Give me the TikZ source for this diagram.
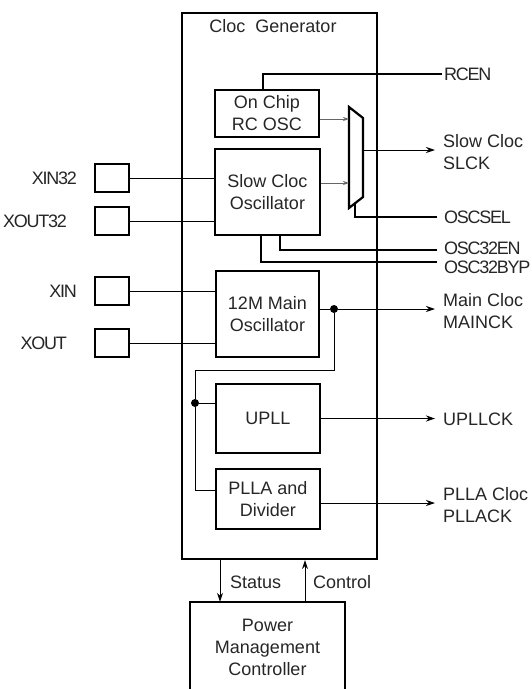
\documentclass[tikz,border=0pt]{standalone}
\usepackage{fontspec}
\setmainfont{Liberation Sans}
\usetikzlibrary{arrows.meta}

\tikzset{
    blk/.style={draw, line width=2.2pt, align=center, inner sep=0pt},
    pad/.style={draw, line width=2.2pt, minimum width=34pt, minimum height=28pt, inner sep=0pt},
    sig/.style={line width=1.4pt},
    wire/.style={line width=1pt},
    arr/.style={line width=1pt, -{Stealth[length=9pt,width=6pt]}},
    lbl/.style={align=left, anchor=west, inner sep=0pt},
    plbl/.style={anchor=east, inner sep=0pt},
    tight/.style={font=\fontsize{18}{22}\selectfont\addfontfeature{LetterSpace=-7}},
    dot/.style={circle, fill, inner sep=0pt, minimum size=8pt}
}

\begin{document}
\begin{tikzpicture}[x=1pt, y=-1pt, font=\fontsize{18}{22}\selectfont, text=black!85]
        \useasboundingbox (0,0) rectangle (531,689);
        \node[blk, minimum width=195pt, minimum height=546pt] (gen) at (279.5,286) {};
        \node (title) at (273,26) {Cloc\ \ Generator};
        \node[blk, minimum width=104pt, minimum height=47pt] (rc)   at (267,113.5) {On Chip\\RC OSC};
        \node[blk, minimum width=105pt, minimum height=86pt] (slow) at (267.5,192) {Slow Cloc\\Oscillator};
        \node[blk, minimum width=103pt, minimum height=86pt] (main) at (267.5,314) {12M Main\\Oscillator};
        \node[blk, minimum width=104pt, minimum height=69pt] (upll) at (268,418.5) {UPLL};
        \node[blk, minimum width=104pt, minimum height=60pt] (plla) at (268,499) {PLLA and\\Divider};
        \node[align=center, inner sep=0pt, minimum width=155pt, minimum height=90pt] (pmc) at (267.5,647) {Power\\Management\\Controller};
        \draw[line width=2.2pt] (pmc.south west) -- (pmc.north west) -- (pmc.north east) -- (pmc.south east);

        \node[pad] (p1) at (112,178) {};
        \node[pad] (p2) at (112,221) {};
        \node[pad] (p3) at (112,291) {};
        \node[pad] (p4) at (112,343) {};
        \node[plbl, tight] (l1) at (77,178) {XIN32};
        \node[plbl, tight] (l2) at (67,221) {XOUT32};
        \node[plbl, tight] (l3) at (77,291) {XIN};
        \node[plbl, tight] (l4) at (67,343) {XOUT};
        \draw[wire] (p1) -- (slow.west |- p1);
        \draw[wire] (p2) -- (slow.west |- p2);
        \draw[wire] (p3) -- (main.west |- p3);
        \draw[wire] (p4) -- (main.west |- p4);

        \draw[line width=2.2pt] (349,107) -- (363,118) -- (363,197) -- (349,208) -- cycle;
        \coordinate (m1) at (349,119);
        \coordinate (m2) at (349,183);
        \coordinate (mo) at (363,150);
        \coordinate (ms) at (355,203);
        \draw[wire, black!60, -{Stealth[length=6pt,width=4pt]}] (rc.east |- m1) -- (m1);
        \draw[wire, black!60, -{Stealth[length=6pt,width=4pt]}] (slow.east |- m2) -- (m2);

        \coordinate (e1) at (442,74);
        \coordinate (e2) at (437,217);
        \coordinate (e3) at (437,250);
        \coordinate (e4) at (437,262);
        \draw[sig] ([xshift=-4pt]rc.north) |- (e1);
        \draw[sig] (ms) |- (e2);
        \draw[sig] ([xshift=12.5pt]slow.south) |- (e3);
        \draw[sig] ([xshift=-6.5pt]slow.south) |- (e4);
        \node[lbl, tight] (t1) at (444,74)  {RCEN};
        \node[lbl, tight] (t2) at (444,217) {OSCSEL};
        \node[lbl, tight] (t3) at (444,248) {OSC32EN};
        \node[lbl, tight] (t4) at (444,267) {OSC32BYP};

        \node[dot] (j1) at (334,309) {};
        \node[dot] (j2) at (195,403) {};
        \coordinate (b1) at (195,370);
        \draw[wire] (main.east |- j1) -- (j1);
        \draw[wire] (j1) |- (b1) -- (j2) |- ([yshift=9pt]plla.west);
        \draw[wire] (j2) -- (upll.west |- j2);

        \coordinate (o1) at (435,150);
        \coordinate (o2) at (435,309);
        \coordinate (o3) at (435,418.5);
        \coordinate (o4) at (435,503);
        \draw[arr] (mo) -- (o1);
        \draw[arr] (j1) -- (o2);
        \draw[arr] (upll.east) -- (o3);
        \draw[arr] ([yshift=-4pt]plla.east) -- (o4);
        \node[lbl] (s1) at (443,152) {Slow Cloc\\SLCK};
        \node[lbl] (s2) at (443,311) {Main Cloc\\MAINCK};
        \node[lbl] (s3) at (443,419) {UPLLCK};
        \node[lbl] (s4) at (443,505) {PLLA Cloc\\PLLACK};

        \coordinate (cx1) at (220,0);
        \coordinate (cx2) at (305,0);
        \draw[arr] (gen.south -| cx1) -- (pmc.north -| cx1);
        \draw[arr] (pmc.north -| cx2) -- (gen.south -| cx2);
        \node[lbl] (st) at (230,582) {Status};
        \node[lbl] (ct) at (313,582) {Control};
\end{tikzpicture}
\end{document}
